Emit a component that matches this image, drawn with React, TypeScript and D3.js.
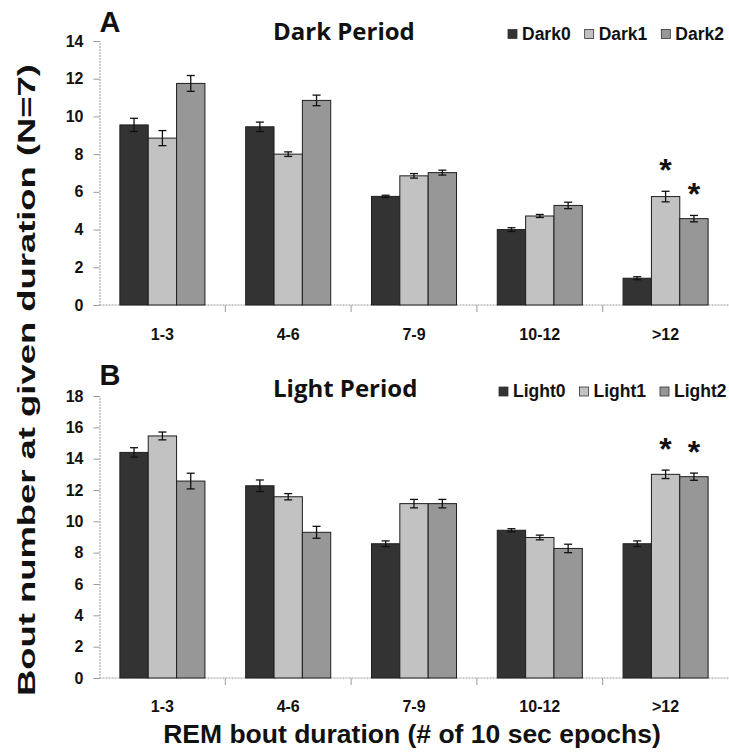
import React, { useEffect, useRef } from 'react';
import * as d3 from 'd3';

const categories = ['1-3', '4-6', '7-9', '10-12', '>12'];

const darkSeries = ['Dark0', 'Dark1', 'Dark2'];
const dark0 = [9.55, 9.45, 5.76, 4.0, 1.42];
const dark0Err = [0.35, 0.25, 0.06, 0.1, 0.08];
const dark1 = [8.85, 8.0, 6.85, 4.72, 5.75];
const dark1Err = [0.4, 0.12, 0.12, 0.08, 0.28];
const dark2 = [11.75, 10.85, 7.02, 5.28, 4.58];
const dark2Err = [0.42, 0.28, 0.13, 0.17, 0.17];
const darkStars = [[4, 1], [4, 2]]; // [category index, series index]

const lightSeries = ['Light0', 'Light1', 'Light2'];
const light0 = [14.4, 12.27, 8.57, 9.43, 8.57];
const light0Err = [0.3, 0.37, 0.18, 0.1, 0.18];
const light1 = [15.45, 11.57, 11.13, 8.97, 13.0];
const light1Err = [0.25, 0.2, 0.27, 0.15, 0.27];
const light2 = [12.57, 9.3, 11.13, 8.27, 12.85];
const light2Err = [0.5, 0.38, 0.27, 0.27, 0.23];
const lightStars = [[4, 1], [4, 2]];

const colors = ['#333333', '#c2c2c2', '#979797'];
const numFont = '"Liberation Sans", Arial, sans-serif';
const titleFont = '"Open Sans", "Noto Sans", sans-serif';

const App = () => {
  const ref = useRef<SVGSVGElement>(null);

  useEffect(() => {
    const svg = d3.select(ref.current);
    svg.selectAll('*').remove();

    const left = 99.5, right = 728.5;

    const drawPanel = (opts: any) => {
      const { letter, title, series, values, errors, stars, yMax, top, bottom, legendX, titleY, letterY, labelY } = opts;
      const g = svg.append('g');

      const x = d3.scaleBand().domain(categories).range([left, right]).paddingInner(0.324).paddingOuter(0.162);
      const xs = d3.scaleBand().domain(series).range([0, x.bandwidth()]);
      const y = d3.scaleLinear().domain([0, yMax]).range([bottom, top]);

      // axes (light grey dotted)
      const yAxis = g.append('g').attr('transform', `translate(${left},0)`)
        .call(d3.axisLeft(y).tickValues(d3.range(0, yMax + 1, 2)).tickSize(6).tickPadding(10));
      yAxis.select('.domain').attr('stroke', '#9a9a9a').attr('stroke-dasharray', '2,1');
      yAxis.selectAll('.tick line').attr('stroke', '#9a9a9a');
      yAxis.selectAll('.tick text')
        .attr('font-family', numFont).attr('font-weight', 'bold').attr('font-size', 16).attr('fill', '#111');

      const bounds = d3.range(0, categories.length + 1).map(i => left + i * x.step());
      g.append('line').attr('x1', left).attr('x2', right).attr('y1', bottom).attr('y2', bottom)
        .attr('stroke', '#9a9a9a').attr('stroke-dasharray', '2,1');
      g.selectAll('.xtick').data(bounds.slice(1, -1)).join('line')
        .attr('x1', d => d).attr('x2', d => d).attr('y1', bottom).attr('y2', bottom + 7)
        .attr('stroke', '#9a9a9a');
      g.selectAll('.xlab').data(categories).join('text')
        .attr('x', d => (x(d) as number) + x.bandwidth() / 2).attr('y', labelY)
        .attr('text-anchor', 'middle')
        .attr('font-family', numFont).attr('font-weight', 'bold').attr('font-size', 16).attr('fill', '#111')
        .text(d => d);

      // bars
      series.forEach((s: string, si: number) => {
        const grp = g.append('g');
        categories.forEach((c, ci) => {
          const v = values[si][ci];
          const e = errors[si][ci];
          const bx = (x(c) as number) + (xs(s) as number);
          const cx = bx + xs.bandwidth() / 2;
          grp.append('rect')
            .attr('x', bx).attr('y', y(v)).attr('width', xs.bandwidth()).attr('height', y(0) - y(v))
            .attr('fill', colors[si]).attr('stroke', '#1e1e1e').attr('stroke-width', 1);
          const eb = grp.append('g').attr('stroke', '#111').attr('stroke-width', 1.3);
          eb.append('line').attr('x1', cx).attr('x2', cx).attr('y1', y(v + e)).attr('y2', y(v - e));
          eb.append('line').attr('x1', cx - 4).attr('x2', cx + 4).attr('y1', y(v + e)).attr('y2', y(v + e));
          eb.append('line').attr('x1', cx - 4).attr('x2', cx + 4).attr('y1', y(v - e)).attr('y2', y(v - e));
        });
      });

      // significance stars
      stars.forEach(([ci, si]: number[]) => {
        const c = categories[ci];
        const cx = (x(c) as number) + (xs(series[si]) as number) + xs.bandwidth() / 2;
        g.append('text')
          .attr('x', cx).attr('y', y(values[si][ci] + errors[si][ci]) + 12)
          .attr('dy', '-0.7em')
          .attr('text-anchor', 'middle')
          .attr('font-family', numFont).attr('font-weight', 'bold').attr('font-size', 32).attr('fill', '#111')
          .text('*');
      });

      // panel letter and title
      g.append('text').attr('x', left).attr('y', letterY)
        .attr('font-family', numFont).attr('font-weight', 'bold').attr('font-size', 29).attr('fill', '#111')
        .text(letter);
      g.append('text').attr('x', 273).attr('y', titleY)
        .attr('font-family', titleFont).attr('font-weight', 'bold').attr('font-size', 24).attr('fill', '#111')
        .text(title);

      // legend
      let lx = legendX;
      series.forEach((s: string, si: number) => {
        g.append('rect').attr('x', lx).attr('y', titleY - 10).attr('width', 9).attr('height', 9)
          .attr('fill', colors[si]).attr('stroke', '#333').attr('stroke-width', 0.8);
        const t = g.append('text').attr('x', lx + 14).attr('y', titleY)
          .attr('font-family', numFont).attr('font-weight', 'bold').attr('font-size', 17.5).attr('fill', '#111')
          .text(s);
        const w = (t.node() as SVGTextElement).getComputedTextLength();
        lx = lx + 14 + w + 14;
      });
    };

    drawPanel({
      letter: 'A', title: 'Dark Period', series: darkSeries,
      values: [dark0, dark1, dark2], errors: [dark0Err, dark1Err, dark2Err], stars: darkStars,
      yMax: 14, top: 41, bottom: 305, legendX: 508, titleY: 39.5, letterY: 32, labelY: 340,
    });
    drawPanel({
      letter: 'B', title: 'Light Period', series: lightSeries,
      values: [light0, light1, light2], errors: [light0Err, light1Err, light2Err], stars: lightStars,
      yMax: 18, top: 396, bottom: 678, legendX: 499, titleY: 397, letterY: 385, labelY: 712,
    });

    // shared axis titles
    svg.append('text').attr('x', 412).attr('y', 743).attr('text-anchor', 'middle')
      .attr('font-family', numFont).attr('font-weight', 'bold').attr('font-size', 26.5).attr('fill', '#111')
      .text('REM bout duration (# of 10 sec epochs)');
    svg.append('text')
      .attr('transform', 'translate(35,380) rotate(-90)')
      .attr('text-anchor', 'middle')
      .attr('font-family', numFont).attr('font-weight', 'bold').attr('font-size', 23).attr('fill', '#111')
      .attr('textLength', 632).attr('lengthAdjust', 'spacingAndGlyphs')
      .text('Bout number at given duration (N=7)');
  }, []);

  return (
    <svg ref={ref} width={729} height={755}
      style={{ position: 'absolute', left: 0, top: 0, background: '#fff' }} />
  );
};

export default App;
